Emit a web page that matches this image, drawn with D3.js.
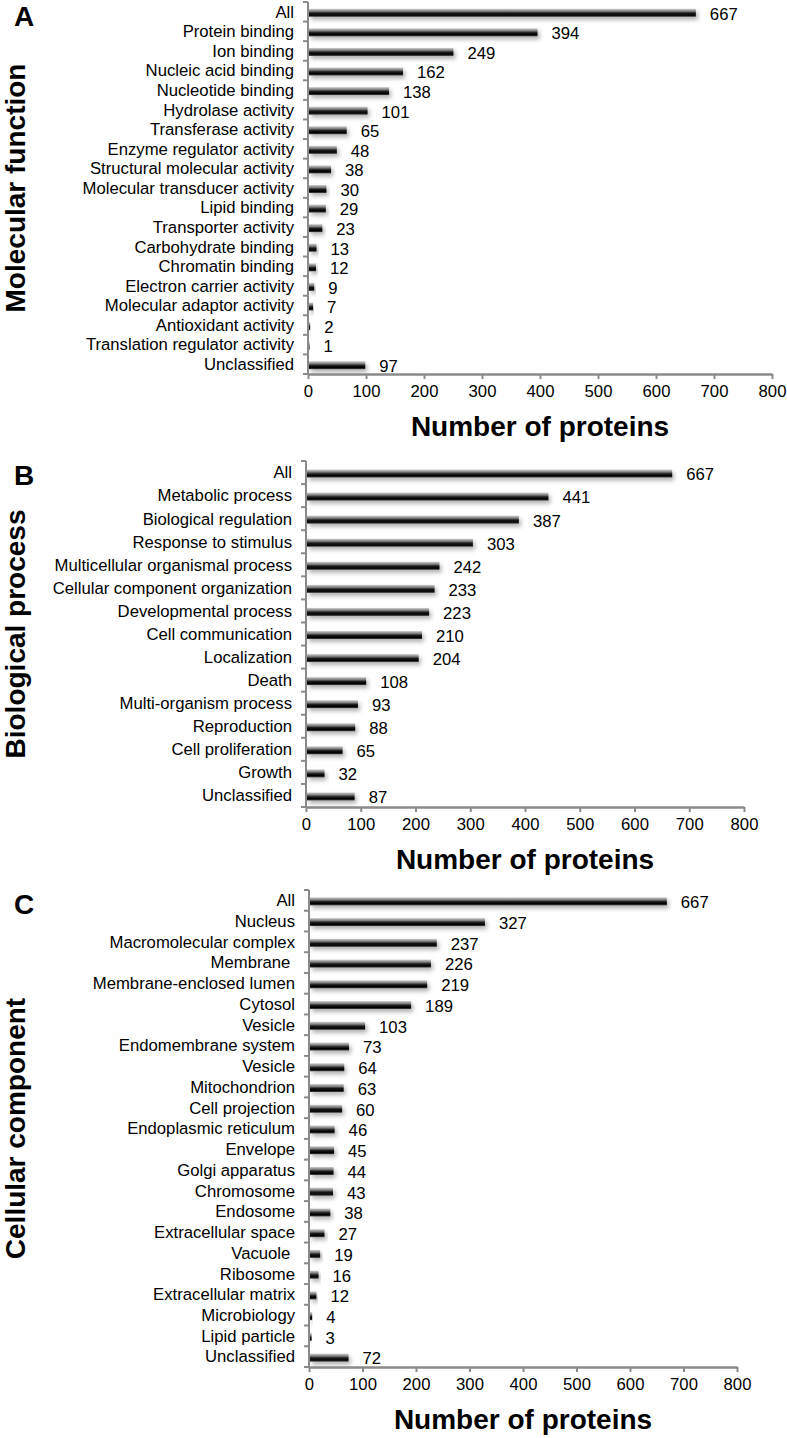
<!DOCTYPE html>
<html>
<head>
<meta charset="utf-8">
<script src="https://cdn.jsdelivr.net/npm/d3@7"></script>
<style>
  html, body { margin: 0; padding: 0; background: #fff; }
  svg { display: block; }
  text { font-family: "Liberation Sans", Arial, sans-serif; }
</style>
</head>
<body>
<svg id="chart" width="787" height="1438"></svg>
<script>
// ---------- DATA ----------
const mfCategories = ["All", "Protein binding", "Ion binding", "Nucleic acid binding", "Nucleotide binding",
  "Hydrolase activity", "Transferase activity", "Enzyme regulator activity", "Structural molecular activity",
  "Molecular transducer activity", "Lipid binding", "Transporter activity", "Carbohydrate binding",
  "Chromatin binding", "Electron carrier activity", "Molecular adaptor activity", "Antioxidant activity",
  "Translation regulator activity", "Unclassified"];
const mfValues = [667, 394, 249, 162, 138, 101, 65, 48, 38, 30, 29, 23, 13, 12, 9, 7, 2, 1, 97];

const bpCategories = ["All", "Metabolic process", "Biological regulation", "Response to stimulus",
  "Multicellular organismal process", "Cellular component organization", "Developmental process",
  "Cell communication", "Localization", "Death", "Multi-organism process", "Reproduction",
  "Cell proliferation", "Growth", "Unclassified"];
const bpValues = [667, 441, 387, 303, 242, 233, 223, 210, 204, 108, 93, 88, 65, 32, 87];

const ccCategories = ["All", "Nucleus", "Macromolecular complex", "Membrane ", "Membrane-enclosed lumen",
  "Cytosol", "Vesicle", "Endomembrane system", "Vesicle", "Mitochondrion", "Cell projection",
  "Endoplasmic reticulum", "Envelope", "Golgi apparatus", "Chromosome", "Endosome", "Extracellular space",
  "Vacuole ", "Ribosome", "Extracellular matrix", "Microbiology", "Lipid particle", "Unclassified"];
const ccValues = [667, 327, 237, 226, 219, 189, 103, 73, 64, 63, 60, 46, 45, 44, 43, 38, 27, 19, 16, 12, 4, 3, 72];

const xTicks = [0, 100, 200, 300, 400, 500, 600, 700, 800];
const xTitle = "Number of proteins";

// ---------- DRAW ----------
const svg = d3.select("#chart");
const defs = svg.append("defs");
const grad = defs.append("linearGradient").attr("id", "barGrad")
  .attr("x1", 0).attr("y1", 0).attr("x2", 0).attr("y2", 1);
[[0, "#d0d0d0"], [0.3, "#808080"], [0.55, "#1a1a1a"], [0.8, "#000"], [1, "#4a4a4a"]].forEach(([o, c]) =>
  grad.append("stop").attr("offset", o).attr("stop-color", c));
const shadow = defs.append("filter").attr("id", "shadow")
  .attr("x", "-10%").attr("y", "-100%").attr("width", "130%").attr("height", "400%");
shadow.append("feDropShadow").attr("dx", 2).attr("dy", 3).attr("stdDeviation", 2)
  .attr("flood-color", "#000").attr("flood-opacity", 0.3);

const panels = [
  { letter: "A", yTitle: "Molecular function", cats: mfCategories, vals: mfValues,
    x0: 308, x1: 772, top: 2, bottom: 374 },
  { letter: "B", yTitle: "Biological process", cats: bpCategories, vals: bpValues,
    x0: 306, x1: 744, top: 461, bottom: 807 },
  { letter: "C", yTitle: "Cellular component", cats: ccCategories, vals: ccValues,
    x0: 309, x1: 737, top: 890, bottom: 1367 }
];

const axisColor = "#8a8a8a";
const fs = 16.7;

panels.forEach(p => {
  const g = svg.append("g");
  const x = d3.scaleLinear().domain([0, 800]).range([p.x0, p.x1]);
  const idx = d3.range(p.cats.length);
  const y = d3.scaleBand().domain(idx).range([p.top, p.bottom]).paddingInner(0).paddingOuter(0);
  const bh = 8;

  // bars
  g.selectAll("rect.bar").data(idx).join("rect")
    .attr("class", "bar")
    .attr("x", x(0) + 1)
    .attr("y", i => y(i) + y.bandwidth() / 2 - bh / 2 + 1)
    .attr("width", i => Math.max(0, x(p.vals[i]) - x(0)))
    .attr("height", bh)
    .attr("fill", "url(#barGrad)")
    .attr("filter", "url(#shadow)");

  // value labels
  g.selectAll("text.val").data(idx).join("text")
    .attr("class", "val")
    .attr("x", i => x(p.vals[i]) + 15)
    .attr("y", i => y(i) + y.bandwidth() / 2 + 2)
    .attr("dy", "0.35em")
    .attr("font-size", fs)
    .attr("fill", "#000")
    .text(i => p.vals[i]);

  // category labels
  g.selectAll("text.cat").data(idx).join("text")
    .attr("class", "cat")
    .attr("x", x(0) - 14)
    .attr("y", i => y(i) + y.bandwidth() / 2)
    .attr("dy", "0.35em")
    .attr("text-anchor", "end")
    .attr("font-size", fs)
    .style("white-space", "pre")
    .attr("fill", "#000")
    .text(i => p.cats[i]);

  // y axis line + ticks at category boundaries
  const yAxis = g.append("g");
  yAxis.append("line").attr("x1", x(0)).attr("x2", x(0)).attr("y1", p.top).attr("y2", p.bottom)
    .attr("stroke", axisColor).attr("stroke-width", 2);
  const bounds = idx.map(i => y(i)).concat([p.bottom]);
  yAxis.selectAll("line.tk").data(bounds).join("line").attr("class", "tk")
    .attr("x1", x(0) - 5).attr("x2", x(0)).attr("y1", d => d).attr("y2", d => d)
    .attr("stroke", axisColor).attr("stroke-width", 2);

  // x axis via d3.axisBottom
  const xa = g.append("g").attr("transform", `translate(0,${p.bottom})`)
    .call(d3.axisBottom(x).tickValues(xTicks).tickSize(5).tickPadding(6).tickSizeOuter(0));
  xa.select(".domain").attr("stroke", axisColor).attr("stroke-width", 2.5);
  xa.selectAll(".tick line").attr("stroke", axisColor).attr("stroke-width", 2);
  xa.selectAll(".tick text").attr("font-size", fs).attr("fill", "#000")
    .attr("font-family", "Liberation Sans, Arial, sans-serif");

  // x title
  g.append("text")
    .attr("x", (p.x0 + p.x1) / 2).attr("y", p.bottom + 62)
    .attr("text-anchor", "middle").attr("font-size", 28).attr("font-weight", "bold")
    .text(xTitle);

  // y title
  g.append("text")
    .attr("transform", `translate(25,${(p.top + p.bottom) / 2}) rotate(-90)`)
    .attr("text-anchor", "middle").attr("font-size", 28).attr("font-weight", "bold")
    .text(p.yTitle);

  // panel letter
  g.append("text")
    .attr("x", 14).attr("y", p.top + 24)
    .attr("font-size", 28).attr("font-weight", "bold")
    .text(p.letter);
});
</script>
</body>
</html>
